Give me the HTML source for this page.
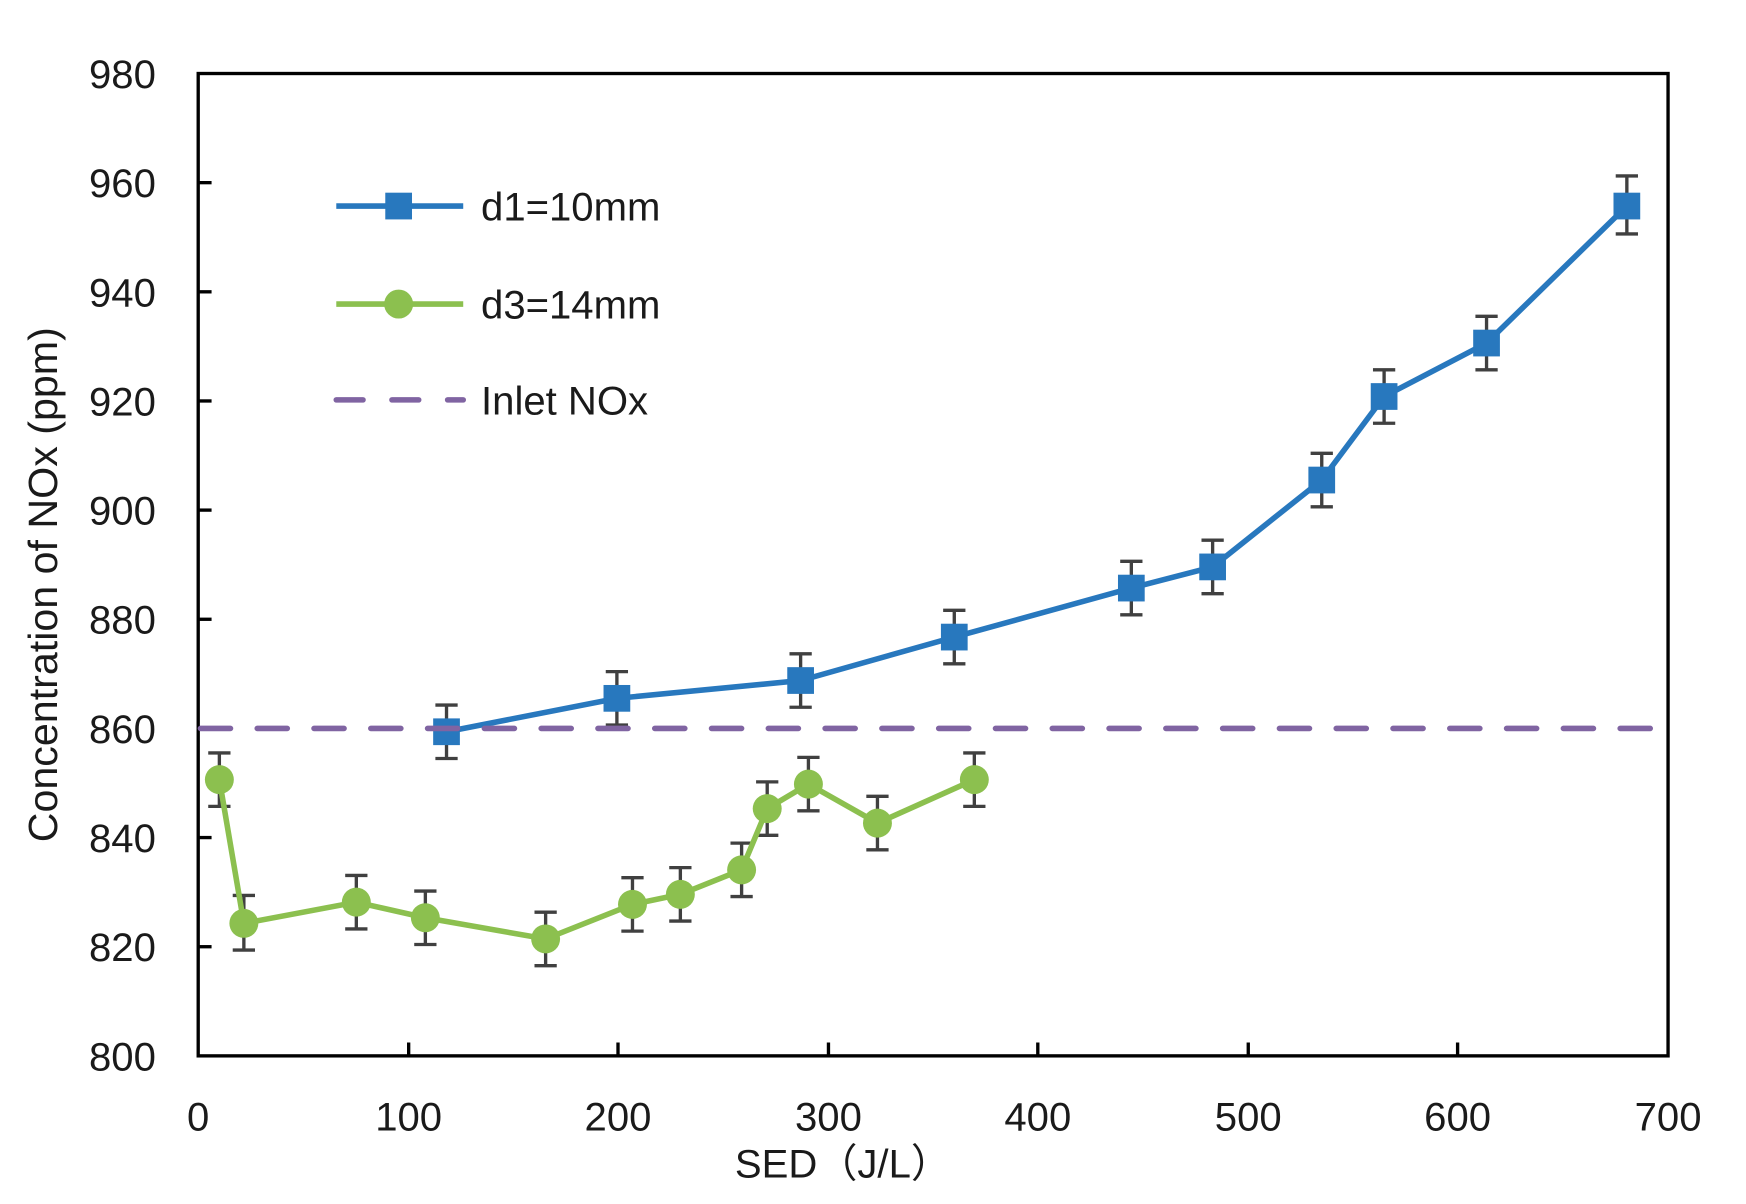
<!DOCTYPE html>
<html><head><meta charset="utf-8"><style>
html,body{margin:0;padding:0;background:#fff;}
svg{display:block;}
text{font-family:"Liberation Sans","Noto Sans CJK SC",sans-serif;fill:#1a1a1a;}
</style></head><body>
<svg width="1746" height="1204" viewBox="0 0 1568 1081" preserveAspectRatio="none" xmlns="http://www.w3.org/2000/svg">
<rect width="1568" height="1081" fill="#fff"/>
<g stroke="#000" stroke-width="3">
<rect x="178" y="66" width="1320" height="882" fill="none"/>
<line x1="178" y1="164" x2="190" y2="164"/><line x1="178" y1="262" x2="190" y2="262"/>
<line x1="178" y1="360" x2="190" y2="360"/><line x1="178" y1="458" x2="190" y2="458"/>
<line x1="178" y1="556" x2="190" y2="556"/><line x1="178" y1="654" x2="190" y2="654"/>
<line x1="178" y1="752" x2="190" y2="752"/><line x1="178" y1="850" x2="190" y2="850"/>
<line x1="367" y1="948" x2="367" y2="936"/><line x1="555" y1="948" x2="555" y2="936"/>
<line x1="744" y1="948" x2="744" y2="936"/><line x1="932" y1="948" x2="932" y2="936"/>
<line x1="1121" y1="948" x2="1121" y2="936"/><line x1="1309" y1="948" x2="1309" y2="936"/>
</g>
<g font-size="36" text-anchor="end">
<text x="140" y="79">980</text><text x="140" y="177">960</text><text x="140" y="275">940</text>
<text x="140" y="373">920</text><text x="140" y="471">900</text><text x="140" y="569">880</text>
<text x="140" y="667">860</text><text x="140" y="765">840</text><text x="140" y="863">820</text>
<text x="140" y="961">800</text>
</g>
<g font-size="36" text-anchor="middle">
<text x="178" y="1015">0</text><text x="367" y="1015">100</text><text x="555" y="1015">200</text>
<text x="744" y="1015">300</text><text x="932" y="1015">400</text><text x="1121" y="1015">500</text>
<text x="1309" y="1015">600</text><text x="1498" y="1015">700</text>
<text x="757" y="1057">SED（J/L）</text>
</g>
<text font-size="37" text-anchor="middle" transform="translate(51,525) rotate(-90)">Concentration of NOx (ppm)</text>
<g stroke="#404040" stroke-width="3" fill="none">
<path d="M401 633V681M391 633H411M391 681H411
M554 603V651M544 603H564M544 651H564
M719 587V635M709 587H729M709 635H729
M857 548V596M847 548H867M847 596H867
M1016 504V552M1006 504H1026M1006 552H1026
M1089 485V533M1079 485H1099M1079 533H1099
M1187 407V455M1177 407H1197M1177 455H1197
M1243 332V380M1233 332H1253M1233 380H1253
M1335 284V332M1325 284H1345M1325 332H1345
M1461 158V210M1451 158H1471M1451 210H1471"/>
<path d="M197 676V724M187 676H207M187 724H207
M219 804V853M209 804H229M209 853H229
M320 786V834M310 786H330M310 834H330
M382 800V848M372 800H392M372 848H392
M490 819V867M480 819H500M480 867H500
M568 788V836M558 788H578M558 836H578
M611 779V827M601 779H621M601 827H621
M666 757V805M656 757H676M656 805H676
M689 702V750M679 702H699M679 750H699
M726 680V728M716 680H736M716 728H736
M788 715V763M778 715H798M778 763H798
M875 676V724M865 676H885M865 724H885"/>
</g>
<polyline fill="none" stroke="#2878BE" stroke-width="5" points="401,657 554,627 719,611 857,572 1016,528 1089,509 1187,431 1243,356 1335,308 1461,185"/>
<g fill="#2878BE">
<rect x="389" y="645" width="24" height="24"/><rect x="542" y="615" width="24" height="24"/>
<rect x="707" y="599" width="24" height="24"/><rect x="845" y="560" width="24" height="24"/>
<rect x="1004" y="516" width="24" height="24"/><rect x="1077" y="497" width="24" height="24"/>
<rect x="1175" y="419" width="24" height="24"/><rect x="1231" y="344" width="24" height="24"/>
<rect x="1323" y="296" width="24" height="24"/><rect x="1449" y="173" width="24" height="24"/>
</g>
<polyline fill="none" stroke="#8CC04F" stroke-width="5" points="197,700 219,829 320,810 382,824 490,843 568,812 611,803 666,781 689,726 726,704 788,739 875,700"/>
<g fill="#8CC04F">
<circle cx="197" cy="700" r="13"/><circle cx="219" cy="829" r="13"/><circle cx="320" cy="810" r="13"/>
<circle cx="382" cy="824" r="13"/><circle cx="490" cy="843" r="13"/><circle cx="568" cy="812" r="13"/>
<circle cx="611" cy="803" r="13"/><circle cx="666" cy="781" r="13"/><circle cx="689" cy="726" r="13"/>
<circle cx="726" cy="704" r="13"/><circle cx="788" cy="739" r="13"/><circle cx="875" cy="700" r="13"/>
</g>
<line x1="180" y1="654" x2="1498" y2="654" stroke="#8064A2" stroke-width="5" stroke-dasharray="27,24" stroke-linecap="round"/>
<line x1="302" y1="185" x2="416" y2="185" stroke="#2878BE" stroke-width="5"/>
<rect x="346" y="173" width="24" height="24" fill="#2878BE"/>
<line x1="302" y1="273" x2="416" y2="273" stroke="#8CC04F" stroke-width="5"/>
<circle cx="358" cy="273" r="13" fill="#8CC04F"/>
<line x1="302" y1="359" x2="416" y2="359" stroke="#8064A2" stroke-width="5" stroke-dasharray="24,26" stroke-linecap="round"/>
<g font-size="36">
<text x="432" y="198">d1=10mm</text>
<text x="432" y="286">d3=14mm</text>
<text x="432" y="372">Inlet NOx</text>
</g>
</svg>
</body></html>
